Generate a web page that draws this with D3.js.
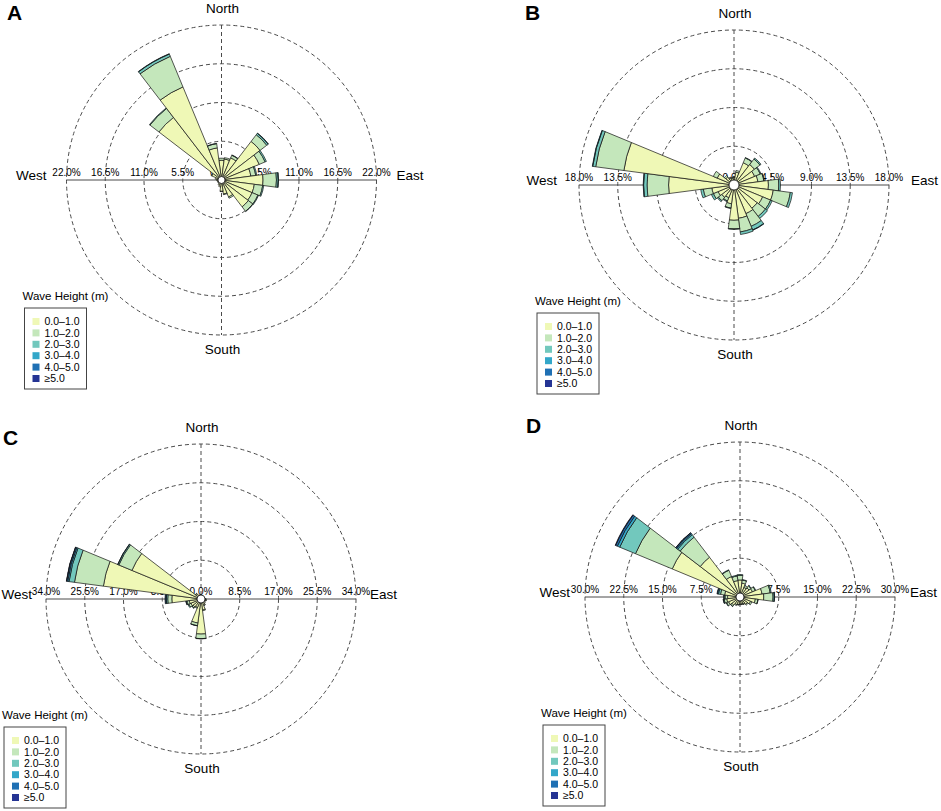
<!DOCTYPE html>
<html>
<head>
<meta charset="utf-8">
<script src="https://cdn.jsdelivr.net/npm/d3@7"></script>
<style>
  body { margin: 0; background: #fff; }
  text { font-family: "Liberation Sans", Arial, Helvetica, sans-serif; fill: #000; }
</style>
</head>
<body>
<div id="chart"></div>
<script>
// wind-rose style wave roses, 24 direction sectors of 15 degrees
var directions = [0, 15, 30, 45, 60, 75, 90, 105, 120, 135, 150, 165,
                  180, 195, 210, 225, 240, 255, 270, 285, 300, 315, 330, 345];

var heightBins = ["0.0\u20131.0", "1.0\u20132.0", "2.0\u20133.0", "3.0\u20134.0", "4.0\u20135.0", "\u22655.0"];
var binColours = ["#eff8b6", "#c4e7bb", "#72c8bd", "#33a7c9", "#1f70b4", "#253494"];

// frequency (%) per direction, one column per wave height bin
var roseA = [
  [2.8, 0.3, 0, 0, 0, 0], [3.0, 0.2, 0, 0, 0, 0], [3.4, 0.4, 0.05, 0, 0, 0], [6.9, 1.2, 0.25, 0.05, 0, 0],
  [5.8, 0.9, 0.2, 0, 0, 0], [4.2, 0.7, 0.15, 0, 0, 0], [5.9, 1.9, 0.25, 0.05, 0, 0], [4.7, 1.2, 0.15, 0, 0, 0],
  [4.7, 0.9, 0.1, 0, 0, 0], [4.8, 0.8, 0.05, 0, 0, 0], [2.6, 0.2, 0, 0, 0, 0], [2.0, 0.1, 0, 0, 0, 0],
  [1.6, 0.05, 0, 0, 0, 0], [1.0, 0, 0, 0, 0, 0], [0.8, 0, 0, 0, 0, 0], [0.6, 0, 0, 0, 0, 0],
  [0.6, 0, 0, 0, 0, 0], [0.6, 0, 0, 0, 0, 0], [0.7, 0, 0, 0, 0, 0], [0.9, 0, 0, 0, 0, 0],
  [1.5, 0.1, 0, 0, 0, 0], [11.2, 1.6, 0.1, 0, 0, 0], [14.3, 4.7, 0.35, 0.05, 0, 0], [4.6, 0.6, 0.05, 0, 0, 0]
];

var roseB = [
  [0.9, 0.1, 0, 0, 0, 0], [1.5, 0.2, 0, 0, 0, 0], [2.8, 0.6, 0.05, 0, 0, 0], [3.0, 0.8, 0.15, 0, 0, 0],
  [2.6, 0.7, 0.1, 0, 0, 0], [2.8, 0.7, 0.05, 0, 0, 0], [4.0, 1.2, 0.2, 0, 0, 0], [4.6, 2.0, 0.25, 0, 0, 0],
  [3.6, 1.0, 0.2, 0, 0, 0], [3.4, 1.2, 0.3, 0, 0, 0], [3.6, 1.6, 0.45, 0.05, 0, 0], [3.9, 1.6, 0.3, 0, 0, 0],
  [4.1, 1.0, 0.05, 0, 0, 0], [2.2, 0.5, 0.05, 0, 0, 0], [1.6, 0.4, 0.1, 0, 0, 0], [1.8, 0.5, 0.15, 0, 0, 0],
  [2.0, 0.6, 0.25, 0, 0, 0], [2.6, 1.0, 0.3, 0, 0, 0], [7.6, 2.5, 0.4, 0.05, 0, 0], [12.9, 3.3, 0.35, 0.05, 0, 0],
  [2.1, 0.5, 0, 0, 0, 0], [1.2, 0.2, 0, 0, 0, 0], [0.9, 0.1, 0, 0, 0, 0], [0.8, 0.1, 0, 0, 0, 0]
];

var roseC = [
  [0.7, 0.1, 0, 0, 0, 0], [0.6, 0, 0, 0, 0, 0], [0.6, 0, 0, 0, 0, 0], [0.6, 0, 0, 0, 0, 0],
  [0.7, 0, 0, 0, 0, 0], [0.8, 0, 0, 0, 0, 0], [1.0, 0.1, 0, 0, 0, 0], [1.1, 0.1, 0, 0, 0, 0],
  [1.0, 0, 0, 0, 0, 0], [1.2, 0, 0, 0, 0, 0], [1.5, 0.1, 0, 0, 0, 0], [2.4, 0.2, 0, 0, 0, 0],
  [7.7, 1.0, 0.05, 0, 0, 0], [5.3, 0.6, 0.05, 0, 0, 0], [2.0, 0.2, 0, 0, 0, 0], [2.2, 0.3, 0.1, 0, 0, 0],
  [2.4, 0.5, 0.2, 0, 0, 0], [2.6, 0.5, 0.2, 0.05, 0, 0], [6.4, 0.9, 0.3, 0.15, 0.15, 0], [21.6, 6.4, 1.2, 0.3, 0.25, 0.05],
  [16.4, 3.1, 0.25, 0.05, 0, 0], [1.5, 0.1, 0, 0, 0, 0], [1.0, 0, 0, 0, 0, 0], [0.8, 0, 0, 0, 0, 0]
];

var roseD = [
  [3.3, 0.9, 0.15, 0, 0, 0], [2.7, 0.6, 0.1, 0, 0, 0], [2.0, 0.4, 0, 0, 0, 0], [2.2, 0.5, 0.1, 0, 0, 0],
  [2.6, 0.6, 0.1, 0, 0, 0], [4.3, 1.6, 0.2, 0, 0, 0], [4.6, 1.8, 0.25, 0.05, 0, 0], [3.0, 0.5, 0.05, 0, 0, 0],
  [2.2, 0.3, 0, 0, 0, 0], [1.8, 0.2, 0, 0, 0, 0], [1.5, 0.1, 0, 0, 0, 0], [1.4, 0.1, 0, 0, 0, 0],
  [1.4, 0.1, 0, 0, 0, 0], [1.5, 0.1, 0, 0, 0, 0], [1.6, 0.2, 0, 0, 0, 0], [2.0, 0.3, 0.05, 0, 0, 0],
  [2.4, 0.4, 0.1, 0, 0, 0], [2.6, 0.5, 0.15, 0.05, 0, 0], [2.4, 0.5, 0.2, 0.05, 0, 0], [3.0, 0.8, 0.4, 0.2, 0.1, 0],
  [14.2, 7.7, 3.3, 0.5, 0.35, 0.1], [9.7, 4.9, 0.6, 0.25, 0.2, 0.05], [4.3, 1.3, 0.1, 0, 0, 0], [3.2, 0.9, 0.15, 0, 0, 0]
];

var ticksA = [0, 5.5, 11, 16.5, 22];
var ticksB = [0, 4.5, 9, 13.5, 18];
var ticksC = [0, 8.5, 17, 25.5, 34];
var ticksD = [0, 7.5, 15, 22.5, 30];

var panels = [
  { letter: "A", lx: 7,   ly: 20,  cx: 221.5, cy: 180, ticks: ticksA, data: roseA, ew: 175, hole: 3.5 },
  { letter: "B", lx: 525, ly: 20,  cx: 734,   cy: 185, ticks: ticksB, data: roseB, ew: 177, hole: 5 },
  { letter: "C", lx: 3,   ly: 445, cx: 201,   cy: 599, ticks: ticksC, data: roseC, ew: 169, hole: 4 },
  { letter: "D", lx: 526, ly: 433, cx: 740,   cy: 597, ticks: ticksD, data: roseD, ew: 170, hole: 4 }
];

var R = 155;          // outer grid radius
var halfSector = 7.5; // degrees each side of the sector centre
var toRad = Math.PI / 180;
var fmt = d3.format(".1f");

var svg = d3.select("#chart")
  .append("svg")
    .attr("width", 941)
    .attr("height", 811);

svg.append("rect").attr("width", 941).attr("height", 811).attr("fill", "#fff");

var arc = d3.arc();

panels.forEach(function(p) {
  var rMax = p.ticks[p.ticks.length - 1];
  var r = d3.scaleLinear().domain([0, rMax]).range([0, R]);

  // panel letter
  svg.append("text")
    .attr("x", p.lx).attr("y", p.ly)
    .attr("font-size", 21).attr("font-weight", "bold")
    .text(p.letter);

  var g = svg.append("g")
    .attr("transform", "translate(" + p.cx + "," + p.cy + ")");

  // dashed rings
  g.selectAll("circle.ring")
    .data(p.ticks.slice(1))
    .enter().append("circle")
      .attr("class", "ring")
      .attr("r", function(d) { return r(d); })
      .attr("fill", "none")
      .attr("stroke", "#4a4a4a")
      .attr("stroke-width", 1)
      .attr("stroke-dasharray", "4,3");

  // north-south dashed axis, east-west solid axis
  g.append("line")
    .attr("x1", 0).attr("x2", 0).attr("y1", -R).attr("y2", R)
    .attr("stroke", "#4a4a4a").attr("stroke-dasharray", "4,3");
  g.append("line")
    .attr("x1", -R).attr("x2", R).attr("y1", 0).attr("y2", 0)
    .attr("stroke", "#4a4a4a").attr("stroke-width", 1);

  // ring labels along the horizontal axis (both sides)
  var lab = [];
  p.ticks.forEach(function(t) {
    if (t === 0) lab.push({ v: t, x: 0 });
    else { lab.push({ v: t, x: -r(t) }); lab.push({ v: t, x: r(t) }); }
  });
  g.selectAll("text.tick")
    .data(lab)
    .enter().append("text")
      .attr("class", "tick")
      .attr("x", function(d) { return d.x; })
      .attr("y", -4)
      .attr("text-anchor", "middle")
      .attr("font-size", 10)
      .text(function(d) { return fmt(d.v) + "%"; });

  // stacked sectors
  var segs = [];
  p.data.forEach(function(row, i) {
    var c = 0;
    row.forEach(function(v, k) {
      if (v > 0) {
        segs.push({ dir: directions[i], k: k, r0: c, r1: c + v });
        c += v;
      }
    });
  });

  g.selectAll("path.seg")
    .data(segs)
    .enter().append("path")
      .attr("class", "seg")
      .attr("d", function(d) {
        return arc({
          innerRadius: r(d.r0),
          outerRadius: r(d.r1),
          startAngle: (d.dir - halfSector) * toRad,
          endAngle: (d.dir + halfSector) * toRad
        });
      })
      .attr("fill", function(d) { return binColours[d.k]; })
      .attr("stroke", "#111")
      .attr("stroke-width", 0.7)
      .attr("stroke-linejoin", "round");

  g.append("circle")
    .attr("r", p.hole)
    .attr("fill", "#fff")
    .attr("stroke", "#111")
    .attr("stroke-width", 0.8);

  // compass labels
  g.append("text").attr("x", 1).attr("y", -167).attr("text-anchor", "middle")
    .attr("font-size", 13.5).text("North");
  g.append("text").attr("x", 1).attr("y", 174).attr("text-anchor", "middle")
    .attr("font-size", 13.5).text("South");
  g.append("text").attr("x", -p.ew).attr("y", 0).attr("text-anchor", "end")
    .attr("font-size", 13.5).text("West");
  g.append("text").attr("x", p.ew).attr("y", 0).attr("text-anchor", "start")
    .attr("font-size", 13.5).text("East");

  // legend
  var lg = g.append("g").attr("transform", "translate(" + (-197) + "," + 128 + ")");
  lg.append("text").attr("x", -2).attr("y", -8).attr("font-size", 11.5).text("Wave Height (m)");
  lg.append("rect")
    .attr("width", 62).attr("height", 81)
    .attr("fill", "#fff").attr("stroke", "#444").attr("stroke-width", 1);
  var item = lg.selectAll("g.item")
    .data(heightBins)
    .enter().append("g")
      .attr("class", "item")
      .attr("transform", function(d, i) { return "translate(0," + (13.5 + i * 11.4) + ")"; });
  item.append("rect")
    .attr("x", 8).attr("y", -3.5).attr("width", 7).attr("height", 7)
    .attr("fill", function(d, i) { return binColours[i]; });
  item.append("text")
    .attr("x", 20).attr("y", 0).attr("dy", "0.36em")
    .attr("font-size", 10.5)
    .text(function(d) { return d; });
});
</script>
</body>
</html>
